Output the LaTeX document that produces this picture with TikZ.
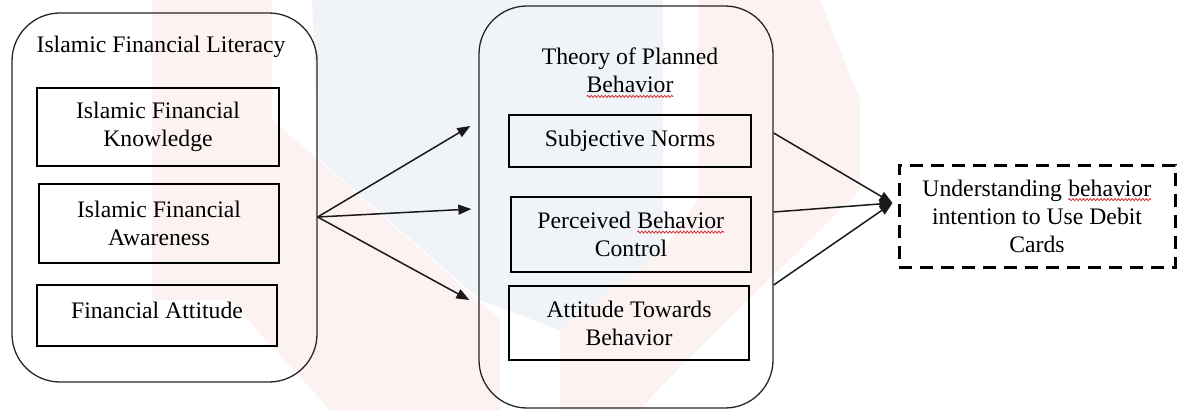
\documentclass[tikz,border=0pt]{standalone}
\usepackage{fontspec}
\setmainfont{Liberation Serif}
\usetikzlibrary{arrows.meta,decorations.pathmorphing}
\definecolor{wmpink}{HTML}{FDF2F2}
\definecolor{wmblue}{HTML}{F0F4F8}
\definecolor{squig}{HTML}{D42A2A}
\newcommand\sqw[1]{\tikz[baseline=(w.base)]{\node[draw=none,fill=none,inner sep=0pt,outer sep=0pt,minimum size=0pt,rectangle](w){#1};\draw[draw=squig,solid,line width=0.8pt,decorate,decoration={snake,amplitude=1pt,segment length=3.5pt}]([yshift=-3.5pt]w.base west)--([yshift=-3.5pt]w.base east);}}
\tikzset{
  txt/.style={font=\fontsize{23.7}{28}\selectfont},
  outerbox/.style={draw=black!85,line width=1.3pt,rounded corners=48pt,inner sep=0pt},
  itembox/.style={txt,draw=black,line width=2.8pt,align=center,inner sep=0pt},
  dashbox/.style={txt,draw=black,line width=3pt,dash pattern=on 13pt off 8pt,align=center,inner sep=0pt},
  arr/.style={draw=black!90,line width=1.5pt,-{Triangle[length=13pt,width=10pt]}}
}
\begin{document}
\begin{tikzpicture}[x=1pt,y=-1pt]
\useasboundingbox[fill=white] (0,0) rectangle (1177,410);
% faint watermark
\fill[wmblue] (312,0) -- (663,0) -- (663,250) -- (560,330) -- (480,300) -- (318,158) -- cycle;
\fill[wmpink] (152,0) -- (272,0) -- (272,120) -- (330,170) -- (500,320) -- (500,410) -- (330,410) -- (230,300) -- (152,300) -- cycle;
\fill[wmpink] (698,0) -- (820,0) -- (860,100) -- (860,190) -- (667,380) -- (640,410) -- (560,410) -- (560,330) -- (663,250) -- (698,200) -- cycle;
% outer groups
\node[outerbox,minimum width=305pt,minimum height=369pt] (lit) at (164.5,197.5) {};
\node[outerbox,minimum width=294pt,minimum height=402pt] (tpb) at (626,207) {};
\node[txt,anchor=base] (littitle) at (161,52) {Islamic Financial Literacy};
\node[txt,align=center] (tpbtitle) at (630,73) {Theory of Planned\\\sqw{Behavior}};
% items
\node[itembox,minimum width=242pt,minimum height=78pt] (know) at (158,127) {Islamic Financial\\Knowledge};
\node[itembox,minimum width=240pt,minimum height=79pt] (aware) at (159,223.5) {Islamic Financial\\Awareness};
\node[itembox,minimum width=240pt,minimum height=61pt,text height=16pt,text depth=11pt] (att) at (157,315.5) {Financial Attitude};
\node[itembox,minimum width=242pt,minimum height=52pt] (sn) at (630,141) {Subjective Norms};
\node[itembox,minimum width=240pt,minimum height=75pt] (pbc) at (631,234.5) {Perceived \sqw{Behavior}\\Control};
\node[itembox,minimum width=240pt,minimum height=74pt] (atb) at (629,323) {Attitude Towards\\Behavior};
\node[dashbox,minimum width=276pt,minimum height=102pt] (dv) at (1037,216) {Understanding \sqw{behavior}\\intention to Use Debit\\Cards};
% connectors
\coordinate (f0) at ([yshift=-19.5pt]lit.east);
\coordinate (a1) at ([xshift=-8pt,yshift=81pt]tpb.west);
\coordinate (a2) at ([xshift=-7pt,yshift=-2pt]tpb.west);
\coordinate (a3) at ([xshift=-9pt,yshift=-93pt]tpb.west);
\draw[arr] (f0) -- (a1);
\draw[arr] (f0) -- (a2);
\draw[arr] (f0) -- (a3);
\coordinate (s1) at ([yshift=74pt]tpb.east);
\coordinate (s2) at ([yshift=-5pt]tpb.east);
\coordinate (s3) at ([yshift=-78pt]tpb.east);
\coordinate (tip) at ([xshift=-5pt,yshift=13pt]dv.west);
\draw[arr] (s1) -- (tip);
\draw[arr] (s2) -- (tip);
\draw[arr] (s3) -- (tip);
\end{tikzpicture}
\end{document}
